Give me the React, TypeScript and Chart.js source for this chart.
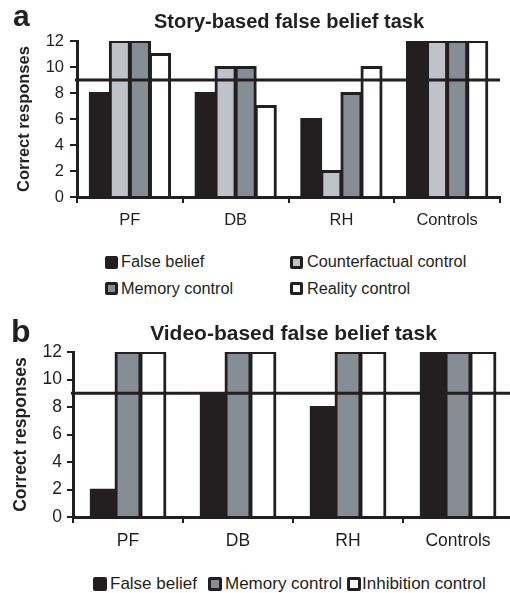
import React, { useEffect, useRef } from "react";
import { Chart, registerables } from "chart.js";

Chart.register(...registerables);

// ---------- data ----------
const categories = ["PF", "DB", "RH", "Controls"];
const yTicks = [0, 2, 4, 6, 8, 10, 12];
const chanceLevel = 9;

const storyFalseBelief = [8, 8, 6, 12];
const storyCounterfactual = [12, 10, 2, 12];
const storyMemory = [12, 10, 8, 12];
const storyReality = [11, 7, 10, 12];

const videoFalseBelief = [2, 9, 8, 12];
const videoMemory = [12, 12, 12, 12];
const videoInhibition = [12, 12, 12, 12];

const storyLabels = ["False belief", "Counterfactual control", "Memory control", "Reality control"];
const videoLabels = ["False belief", "Memory control", "Inhibition control"];

// ---------- styles ----------
const DARK = "#231f20";
const LIGHT = "#bfc3c9";
const MID = "#878d94";
const WHITE = "#ffffff";
const FONT = "'Liberation Sans', Arial, Helvetica, sans-serif";

const thresholdPlugin = {
  id: "threshold",
  afterDatasetsDraw(chart: any, _args: any, opts: any) {
    const y = chart.scales.y.getPixelForValue(opts.value);
    const { left, right } = chart.chartArea;
    const ctx = chart.ctx;
    ctx.save();
    ctx.strokeStyle = DARK;
    ctx.lineWidth = 3;
    ctx.beginPath();
    ctx.moveTo(left - 2, y);
    ctx.lineTo(right, y);
    ctx.stroke();
    ctx.restore();
  },
};

type PanelProps = {
  top: number;
  width: number;
  height: number;
  padTop: number;
  padRight: number;
  yWidth: number;
  xHeight: number;
  fontSize: number;
  titlePad: number;
  yTickLen: number;
  yTickPad: number;
  catPct: number;
  series: number[][];
  colors: string[];
  labels: string[];
};

function Panel(p: PanelProps) {
  const ref = useRef<HTMLCanvasElement | null>(null);
  useEffect(() => {
    if (!ref.current) return;
    const chart = new Chart(ref.current, {
      type: "bar",
      data: {
        labels: categories,
        datasets: p.series.map((d, i) => ({
          label: p.labels[i],
          data: d,
          backgroundColor: p.colors[i],
          borderColor: DARK,
          borderWidth: 3,
          inflateAmount: 1,
          categoryPercentage: p.catPct,
          barPercentage: 1,
        })),
      },
      options: {
        responsive: false,
        animation: false,
        devicePixelRatio: 1,
        layout: { padding: { top: p.padTop, right: p.padRight, left: 0, bottom: 0 } },
        plugins: {
          legend: { display: false },
          tooltip: { enabled: false },
          title: { display: false },
          threshold: { value: chanceLevel },
        } as any,
        scales: {
          x: {
            grid: {
              offset: true,
              drawOnChartArea: false,
              drawTicks: true,
              tickLength: 6,
              lineWidth: 2,
              color: DARK,
            },
            border: { display: true, color: DARK, width: 3 },
            ticks: {
              color: DARK,
              font: { family: FONT, size: p.fontSize },
              padding: 8,
              maxRotation: 0,
            },
            afterFit: (s: any) => {
              s.height = p.xHeight;
            },
          },
          y: {
            min: 0,
            max: 12,
            afterBuildTicks: (s: any) => {
              s.ticks = yTicks.map((v) => ({ value: v }));
            },
            grid: {
              drawOnChartArea: false,
              drawTicks: true,
              tickLength: p.yTickLen,
              lineWidth: 2,
              color: DARK,
            },
            border: { display: true, color: DARK, width: 3 },
            ticks: {
              color: DARK,
              font: { family: FONT, size: p.fontSize },
              padding: p.yTickPad,
            },
            title: {
              display: true,
              text: "Correct responses",
              color: DARK,
              font: { family: FONT, size: p.fontSize, weight: "bold" },
              padding: { top: p.titlePad, bottom: 0 },
            },
            afterFit: (s: any) => {
              s.width = p.yWidth;
            },
          },
        },
      },
      plugins: [thresholdPlugin as any],
    });
    return () => chart.destroy();
  }, []);
  return (
    <canvas
      ref={ref}
      width={p.width}
      height={p.height}
      style={{ position: "absolute", left: 0, top: p.top, width: p.width, height: p.height }}
    />
  );
}

function Text(props: {
  x: number;
  baseline: number;
  size: number;
  bold?: boolean;
  center?: boolean;
  children: React.ReactNode;
}) {
  const { x, baseline, size, bold, center, children } = props;
  return (
    <div
      style={{
        position: "absolute",
        left: center ? x - 300 : x,
        width: center ? 600 : undefined,
        textAlign: center ? "center" : "left",
        top: baseline - 0.8465 * size,
        fontFamily: FONT,
        fontSize: size,
        lineHeight: `${size}px`,
        fontWeight: bold ? "bold" : "normal",
        color: DARK,
        whiteSpace: "nowrap",
      }}
    >
      {children}
    </div>
  );
}

function LegendItem(props: {
  boxX: number;
  boxY: number;
  box: number;
  textX: number;
  baseline: number;
  size: number;
  fill: string;
  label: string;
}) {
  const { boxX, boxY, box, textX, baseline, size, fill, label } = props;
  return (
    <>
      <div
        style={{
          position: "absolute",
          left: boxX,
          top: boxY,
          width: box,
          height: box,
          boxSizing: "border-box",
          border: `3px solid ${DARK}`,
          borderRadius: 2,
          background: fill,
        }}
      />
      <Text x={textX} baseline={baseline} size={size}>
        {label}
      </Text>
    </>
  );
}

export default function App() {
  const storyColors = [DARK, LIGHT, MID, WHITE];
  const videoColors = [DARK, MID, WHITE];
  return (
    <div
      style={{
        position: "absolute",
        left: 0,
        top: 0,
        width: 510,
        height: 593,
        overflow: "hidden",
        background: "#ffffff",
      }}
    >
      {/* Panel a */}
      <Panel
        top={0}
        width={510}
        height={240}
        padTop={41}
        padRight={10}
        yWidth={77}
        xHeight={43}
        fontSize={16.5}
        titlePad={14.5}
        yTickLen={7}
        yTickPad={6}
        catPct={0.76}
        series={[storyFalseBelief, storyCounterfactual, storyMemory, storyReality]}
        colors={storyColors}
        labels={storyLabels}
      />
      <Text x={13} baseline={26.5} size={30} bold>
        a
      </Text>
      <Text x={289} baseline={28.3} size={20} bold center>
        Story-based false belief task
      </Text>
      <LegendItem boxX={105} boxY={256} box={13} textX={121} baseline={266.7} size={16.3} fill={storyColors[0]} label={storyLabels[0]} />
      <LegendItem boxX={290} boxY={256} box={13} textX={307} baseline={266.7} size={16.3} fill={storyColors[1]} label={storyLabels[1]} />
      <LegendItem boxX={105} boxY={282} box={13} textX={121} baseline={293.3} size={16.3} fill={storyColors[2]} label={storyLabels[2]} />
      <LegendItem boxX={290} boxY={282} box={13} textX={307} baseline={293.3} size={16.3} fill={storyColors[3]} label={storyLabels[3]} />

      {/* Panel b */}
      <Panel
        top={300}
        width={525}
        height={262}
        padTop={52}
        padRight={12}
        yWidth={73}
        xHeight={45}
        fontSize={17.5}
        titlePad={10.9}
        yTickLen={6}
        yTickPad={5}
        catPct={0.68}
        series={[videoFalseBelief, videoMemory, videoInhibition]}
        colors={videoColors}
        labels={videoLabels}
      />
      <Text x={11} baseline={341.7} size={32} bold>
        b
      </Text>
      <Text x={293.5} baseline={339.3} size={21} bold center>
        Video-based false belief task
      </Text>
      <LegendItem boxX={93} boxY={577} box={14} textX={110} baseline={589.3} size={17} fill={videoColors[0]} label={videoLabels[0]} />
      <LegendItem boxX={208} boxY={577} box={14} textX={225} baseline={589.3} size={17} fill={videoColors[1]} label={videoLabels[1]} />
      <LegendItem boxX={347} boxY={577} box={14} textX={362} baseline={589.3} size={17} fill={videoColors[2]} label={videoLabels[2]} />
    </div>
  );
}
